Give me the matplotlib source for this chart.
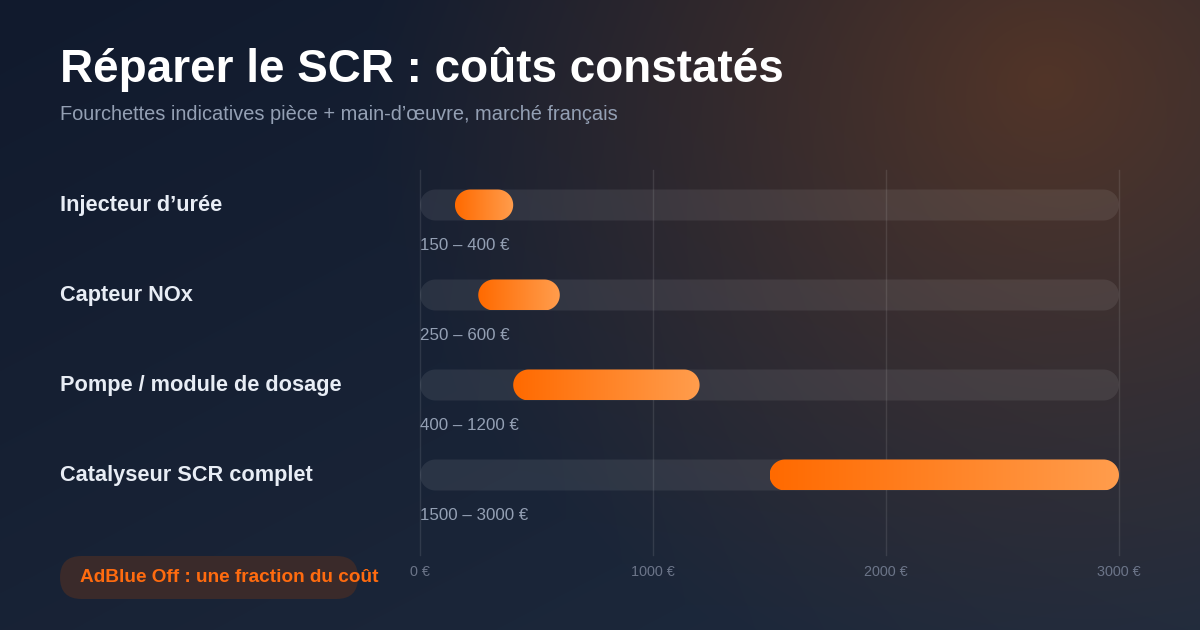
import numpy as np
import matplotlib
matplotlib.use("Agg")
import matplotlib.pyplot as plt
from matplotlib.patches import FancyBboxPatch, Polygon
from matplotlib.colors import LinearSegmentedColormap, to_rgb

plt.rcParams['font.family'] = ['Liberation Sans', 'DejaVu Sans']

# Data
categories = ["Injecteur d\u2019urée", "Capteur NOx", "Pompe / module de dosage", "Catalyseur SCR complet"]
low = [150, 250, 400, 1500]
high = [400, 600, 1200, 3000]
range_labels = ["150 \u2013 400 €", "250 \u2013 600 €", "400 \u2013 1200 €", "1500 \u2013 3000 €"]
ticks = [0, 1000, 2000, 3000]
tick_labels = ["0 €", "1000 €", "2000 €", "3000 €"]
xmax = 3000

title = "Réparer le SCR : coûts constatés"
subtitle = "Fourchettes indicatives pièce + main-d\u2019œuvre, marché français"
badge = "AdBlue Off : une fraction du coût"

W, H = 1200, 630
fig = plt.figure(figsize=(W / 100, H / 100), dpi=100)

# background (pixel coords)
bg = fig.add_axes([0, 0, 1, 1])
bg.set_xlim(0, W)
bg.set_ylim(H, 0)
bg.axis('off')
yy, xx = np.mgrid[0:H, 0:W]
t = (xx / W + yy / H) / 2
c0 = np.array(to_rgb('#111a2d'))
c1 = np.array(to_rgb('#1f2b3e'))
img = c0[None, None, :] * (1 - t[..., None]) + c1[None, None, :] * t[..., None]
r = np.hypot(xx - 1045, (yy - 80) * 1.1)
a = 0.25 * np.clip(1 - r / 680, 0, 1) ** 1.1
glow = np.array([1.0, 0.42, 0.0])
img = img * (1 - a[..., None]) + glow[None, None, :] * a[..., None]
bg.imshow(img, extent=[0, W, H, 0], aspect='auto', zorder=0)

# titles
bg.text(60, 70, title, color='white', fontsize=33, fontweight='bold', va='center', ha='left')
bg.text(60, 115, subtitle, color='#94a0b4', fontsize=14.4, va='center', ha='left')

# badge
bg.add_patch(FancyBboxPatch((60, 556), 298, 43, boxstyle="round,pad=0,rounding_size=21.5",
                            fc='#3a2a2a', ec='none', zorder=2))
bg.text(80, 578, badge, color='#ff6b0f', fontsize=13.7, fontweight='bold', va='center', ha='left', zorder=3)

# chart axes
ax_l, ax_r, ax_t, ax_b = 420, 1119, 170, 555
ax = fig.add_axes([ax_l / W, 1 - ax_b / H, (ax_r - ax_l) / W, (ax_b - ax_t) / H])
ax.patch.set_alpha(0)
n = len(categories)
step_px = 90
y_top = -35 / step_px
y_bot = y_top + (ax_b - ax_t) / step_px
for s in ax.spines.values():
    s.set_visible(False)
ax.set_yticks([])
ax.set_xticks(ticks)
ax.set_xticklabels(tick_labels, color='#6b7488', fontsize=10.4)
ax.tick_params(axis='x', length=0, pad=7)
for tk in ticks:
    ax.axvline(tk, color='white', alpha=0.1, lw=1, zorder=1, clip_on=False)

x_per_px = xmax / (ax_r - ax_l)
y_per_px = 1 / step_px
bar_h = 31 * y_per_px
rad = 15.5 * x_per_px
cmap = LinearSegmentedColormap.from_list('o', ['#ff6a00', '#ff9d4d'])
grad = np.linspace(0, 1, 256)[None, :]
th = np.linspace(-np.pi / 2, np.pi / 2, 40)


def capsule(x0, x1, yc, **kw):
    right = np.column_stack([x1 - rad + rad * np.cos(th), yc + bar_h / 2 * np.sin(th)])
    left = np.column_stack([x0 + rad - rad * np.cos(th), yc - bar_h / 2 * np.sin(th)])
    return Polygon(np.vstack([right, left]), closed=True, **kw)


for i in range(n):
    ax.add_patch(capsule(0, xmax, i, fc='white', alpha=0.08, ec='none', zorder=2))
    rng = capsule(low[i], high[i], i, fc='none', ec='none', zorder=3)
    ax.add_patch(rng)
    im = ax.imshow(grad, cmap=cmap, extent=[low[i], high[i], i + bar_h / 2, i - bar_h / 2],
                   aspect='auto', zorder=3)
    im.set_clip_path(rng)
    ax.text(0, i + 41 * y_per_px, range_labels[i], color='#94a0b4', fontsize=12.15,
            va='center', ha='left', zorder=4)
    bg.text(60, ax_t + 36 + i * step_px, categories[i], color='#e8edf5', fontsize=15.7,
            fontweight='bold', va='center', ha='left')

ax.set_xlim(0, xmax)
ax.set_ylim(y_bot, y_top)

fig.savefig("out.png", dpi=100)
